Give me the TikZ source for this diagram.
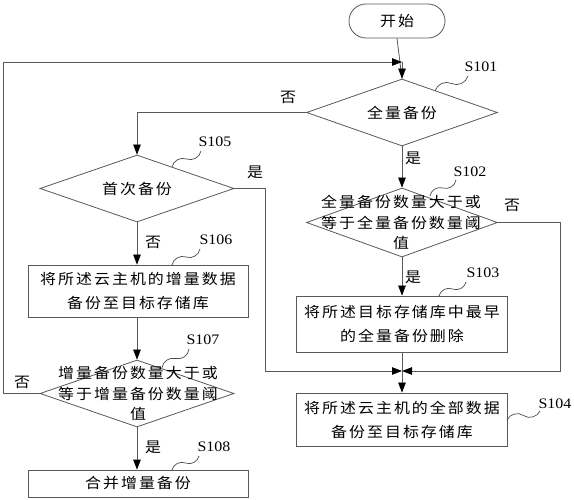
\documentclass[tikz,border=0pt]{standalone}
\usepackage{fontspec}
\newfontfamily\cjk[FakeStretch=1.1,LetterSpace=14]{Noto Sans CJK SC}
\newfontfamily\lblfont[FakeStretch=1.1]{Liberation Serif}
\usetikzlibrary{shapes.geometric,arrows.meta,calc}
\tikzset{
  ln/.style={draw=black!65, line width=0.8pt},
  arr/.style={ln, -{Triangle[length=10pt,width=7.5pt,fill=black,color=black]}},
  dia/.style={diamond, ln, inner sep=0pt},
  boxx/.style={rectangle, ln, inner sep=0pt},
  txt/.style={font={\fontsize{14.5pt}{24pt}\selectfont\cjk}, align=center, inner sep=0pt},
  dtxt/.style={font={\fontsize{14.5pt}{20.5pt}\selectfont\cjk}, align=center, inner sep=0pt},
  steplbl/.style={font={\fontsize{14.5pt}{16pt}\selectfont\lblfont}, inner sep=0pt},
  sq/.style={draw=black!70, line width=0.7pt},
}
\newcommand{\mysquig}[2]{\draw[sq] (#1) to[bend left=50] ($(#1)!0.5!(#2)$) to[bend right=50] (#2);}
\begin{document}
\begin{tikzpicture}[x=1pt,y=1pt]
\useasboundingbox (0,0) rectangle (574,-500);
\fill[white] (0,0) rectangle (574,-500);
% shapes
\node[rectangle, ln, rounded corners=17pt, minimum width=96pt, minimum height=34pt, inner sep=0pt] (start) at (397,-21) {};
\node[txt] (tstart) at (start) {开始};
\node[dia, minimum width=191pt, minimum height=67pt] (d101) at (402,-112.5) {};
\node[txt] (t101) at (d101) {全量备份};
\node[dia, minimum width=194pt, minimum height=67pt] (d105) at (137,-188.5) {};
\node[txt] (t105) at (d105) {首次备份};
\node[dia, minimum width=191pt, minimum height=69pt] (d102) at (402,-222.5) {};
\node[dtxt] (t102) at (401,-222.5) {全量备份数量大于或\\等于全量备份数量阈\\值};
\node[boxx, minimum width=211pt, minimum height=56pt] (b103) at (402,-324) {};
\node[txt] (t103) at (b103) {将所述目标存储库中最早\\的全量备份删除};
\node[boxx, minimum width=211pt, minimum height=53pt] (b104) at (402,-419.5) {};
\node[txt] (t104) at (b104) {将所述云主机的全部数据\\备份至目标存储库};
\node[boxx, minimum width=220pt, minimum height=52pt] (b106) at (138,-291) {};
\node[txt] (t106) at (b106) {将所述云主机的增量数据\\备份至目标存储库};
\node[dia, minimum width=194pt, minimum height=67pt] (d107) at (137,-393.5) {};
\node[dtxt] (t107) at (138,-393.5) {增量备份数量大于或\\等于增量备份数量阈\\值};
\node[boxx, minimum width=220pt, minimum height=27pt] (b108) at (138,-483.5) {};
\node[txt] (t108) at (b108) {合并增量备份};
% coordinates
\coordinate (fbL) at (3,-62);
\coordinate (fb) at (402,-62);
\coordinate (m) at (402,-371);
\coordinate (r105) at (265,-188.5);
\coordinate (r102) at (560,-222.5);
% connectors
\draw[ln] (start.south) -- (d101.north);
\draw[arr] (fb |- d101.north) ++(0,17) -- (d101.north);
\draw[arr] (d107.west) -| (fbL) -- (fb);
\draw[arr] (d101.west) -| (d105.north);
\draw[arr] (d101.south) -- (d102.north);
\draw[arr] (d105.east) -- (r105) |- (m);
\draw[arr] (d102.east) -- (r102) |- (m);
\draw[arr] (b103.south) -- (b104.north);
\draw[arr] (d102.south) -- (b103.north);
\draw[arr] (d105.south) -- (d105.south |- b106.north);
\draw[arr] (d105.south |- b106.south) -- (d107.north);
\draw[arr] (d107.south) -- (d107.south |- b108.north);
% yes/no labels
\node[txt] (n1) at (288,-97) {否};
\node[txt] (y1) at (413,-158) {是};
\node[txt] (y2) at (255,-172) {是};
\node[txt] (n2) at (512,-205) {否};
\node[txt] (y3) at (413,-277) {是};
\node[txt] (n3) at (153,-242) {否};
\node[txt] (n4) at (22,-382) {否};
\node[txt] (y4) at (153,-447) {是};
% step labels
\node[steplbl] (l101) at (481,-67) {S101};
\node[steplbl] (l105) at (215,-142) {S105};
\node[steplbl] (l102) at (470,-172) {S102};
\node[steplbl] (l103) at (483,-273) {S103};
\node[steplbl] (l106) at (216,-240) {S106};
\node[steplbl] (l107) at (203,-340) {S107};
\node[steplbl] (l108) at (214,-447) {S108};
\node[steplbl] (l104) at (555,-404) {S104};
% squiggles
\mysquig{435,-91}{468,-76}
\mysquig{172,-167}{201,-151}
\mysquig{430,-196}{456,-180}
\mysquig{439,-296}{466,-282}
\mysquig{172,-265}{200,-249}
\mysquig{162,-368}{189,-349}
\mysquig{172,-470}{199,-456}
\mysquig{507,-420}{540,-411}
\end{tikzpicture}
\end{document}
